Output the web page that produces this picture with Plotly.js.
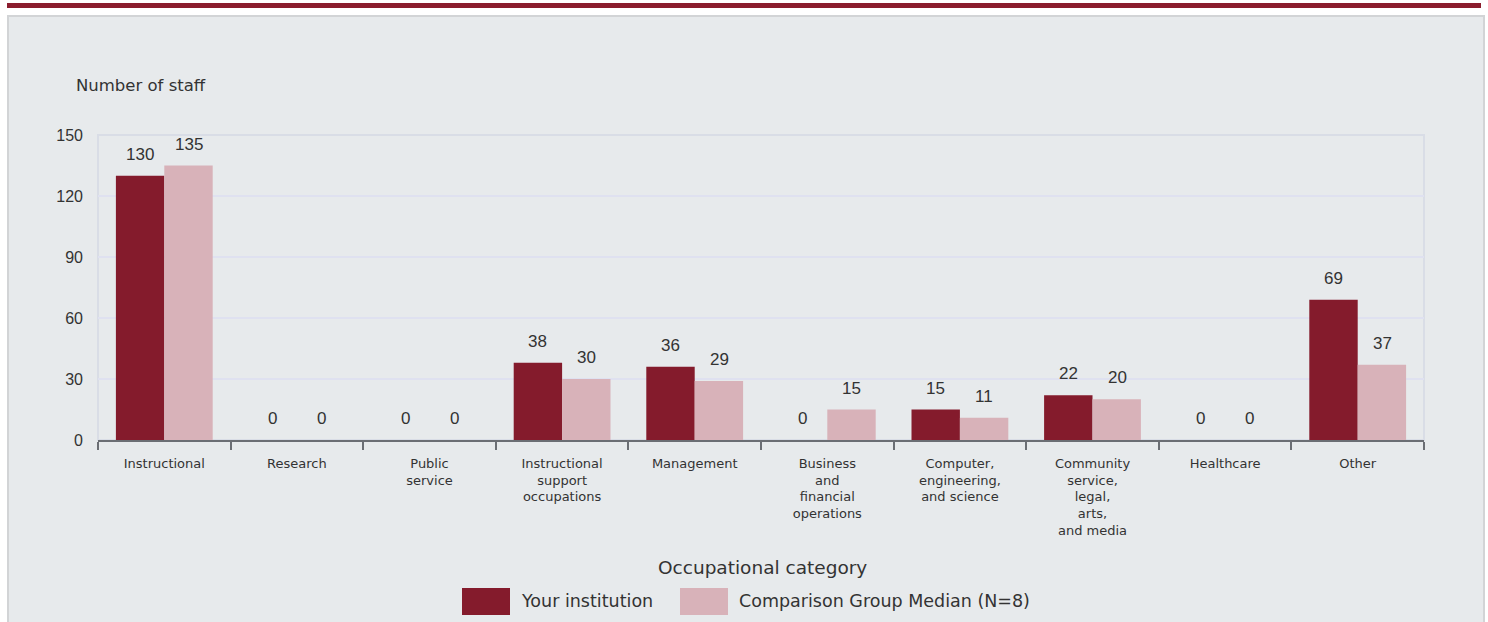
<!DOCTYPE html>
<html>
<head>
<meta charset="utf-8">
<script src="https://cdn.plot.ly/plotly-3.0.1.min.js"></script>
<style>
html,body{margin:0;padding:0;background:#ffffff;}
#chart{width:1488px;height:622px;}
</style>
</head>
<body>
<div id="chart"></div>
<script>
// ---- data ----
var categories = ["Instructional", "Research", "Public<br>service", "Instructional<br>support<br>occupations", "Management", "Business<br>and<br>financial<br>operations", "Computer,<br>engineering,<br>and science", "Community<br>service,<br>legal,<br>arts,<br>and media", "Healthcare", "Other"];
var yourInstitution = [130, 0, 0, 38, 36, 0, 15, 22, 0, 69];
var comparisonMedian = [135, 0, 0, 30, 29, 15, 11, 20, 0, 37];
var seriesNames = ["Your institution", "Comparison Group Median (N=8)"];
var yTicks = [0, 30, 60, 90, 120, 150];
var yTitle = "Number of staff";
var xTitle = "Occupational category";

// ---- style ----
var darkColor = "#841b2c";
var lightColor = "#d8b2b9";
var W = 1488, H = 622;
var L = 98, R = 1424, T = 135, B = 440;
var pw = R - L, ph = B - T;
function px(x){ return (x - L) / pw; }
function py(y){ return (B - y) / ph; }

var fontFam = "Liberation Sans, Arial, sans-serif";
var wideFam = "DejaVu Sans, sans-serif";
var txtColor = "#333333";

var traces = [
  {type: "bar", x: categories, y: yourInstitution, name: seriesNames[0],
   marker: {color: darkColor, line: {width: 0}}, hoverinfo: "x+y"},
  {type: "bar", x: categories, y: comparisonMedian, name: seriesNames[1],
   marker: {color: lightColor, line: {width: 0}}, hoverinfo: "x+y"}
];

var annotations = [];
var barOffset = 24.5;
[yourInstitution, comparisonMedian].forEach(function(series, si){
  series.forEach(function(v, i){
    annotations.push({
      x: categories[i], y: v, xref: "x", yref: "y",
      text: String(v), showarrow: false,
      xshift: si === 0 ? -barOffset : barOffset,
      yanchor: "bottom", yshift: 10,
      font: {family: fontFam, size: 17, color: txtColor}
    });
  });
});
annotations.push({
  xref: "paper", yref: "paper", x: px(74), y: py(85), xanchor: "left", yanchor: "middle",
  text: yTitle, showarrow: false, font: {family: wideFam, size: 16.5, color: txtColor}
});
annotations.push({
  xref: "paper", yref: "paper", x: px(762), y: py(567), xanchor: "center", yanchor: "middle",
  text: xTitle, showarrow: false, font: {family: wideFam, size: 18.5, color: txtColor}
});
// custom legend
var legendItems = [
  {name: seriesNames[0], color: darkColor, x0: 462, tx: 519},
  {name: seriesNames[1], color: lightColor, x0: 680, tx: 737}
];
var shapes = [
  {type: "rect", xref: "paper", yref: "paper", x0: px(7), x1: px(1481), y0: py(3), y1: py(8),
   fillcolor: "#8b1d2e", line: {width: 0}, layer: "below"},
  {type: "rect", xref: "paper", yref: "paper", x0: px(8), x1: px(1484), y0: py(16), y1: py(640),
   fillcolor: "#e7eaec", line: {color: "#d2d4d6", width: 2}, layer: "below"},
  {type: "rect", xref: "paper", yref: "paper", x0: 0, x1: 1, y0: 0, y1: 1,
   fillcolor: "rgba(0,0,0,0)", line: {color: "#d9dde6", width: 2}, layer: "below"}
];
legendItems.forEach(function(it){
  var x0 = it.x0, x1 = it.x0 + 48, y0 = 588, y1 = 615;
  shapes.push({type: "rect", xref: "paper", yref: "paper", x0: px(x0), x1: px(x1), y0: py(y1), y1: py(y0),
    fillcolor: it.color, line: {width: 0}});
  annotations.push({xref: "paper", yref: "paper", x: px(it.tx), y: py(601), xanchor: "left", yanchor: "middle",
    text: it.name, showarrow: false, font: {family: wideFam, size: 17.5, color: txtColor}});
});

var layout = {
  width: W, height: H,
  margin: {l: L, r: W - R, t: T, b: H - B, pad: 0},
  paper_bgcolor: "rgba(0,0,0,0)",
  plot_bgcolor: "#f4f4f4",
  barmode: "group", bargap: 0.27, bargroupgap: 0,
  showlegend: false,
  xaxis: {
    type: "category", tickson: "boundaries", ticks: "outside", ticklen: 8, tickwidth: 2, tickcolor: "#6b6e74",
    showline: true, linecolor: "#6b6e74", linewidth: 2, showgrid: false, zeroline: false,
    tickfont: {family: wideFam, size: 13, color: txtColor},
    ticklabelstandoff: 10, automargin: false, fixedrange: true
  },
  yaxis: {
    range: [0, 150], tickvals: yTicks, ticktext: yTicks.map(String),
    showgrid: true, gridcolor: "#dfe1f0", gridwidth: 1.5, zeroline: false,
    showline: false, ticks: "", ticklabelstandoff: 14,
    tickfont: {family: fontFam, size: 16, color: txtColor}, automargin: false, fixedrange: true
  },
  shapes: shapes,
  annotations: annotations,
  font: {family: fontFam, color: txtColor}
};

Plotly.newPlot("chart", traces, layout, {displayModeBar: false, staticPlot: true});
</script>
</body>
</html>
